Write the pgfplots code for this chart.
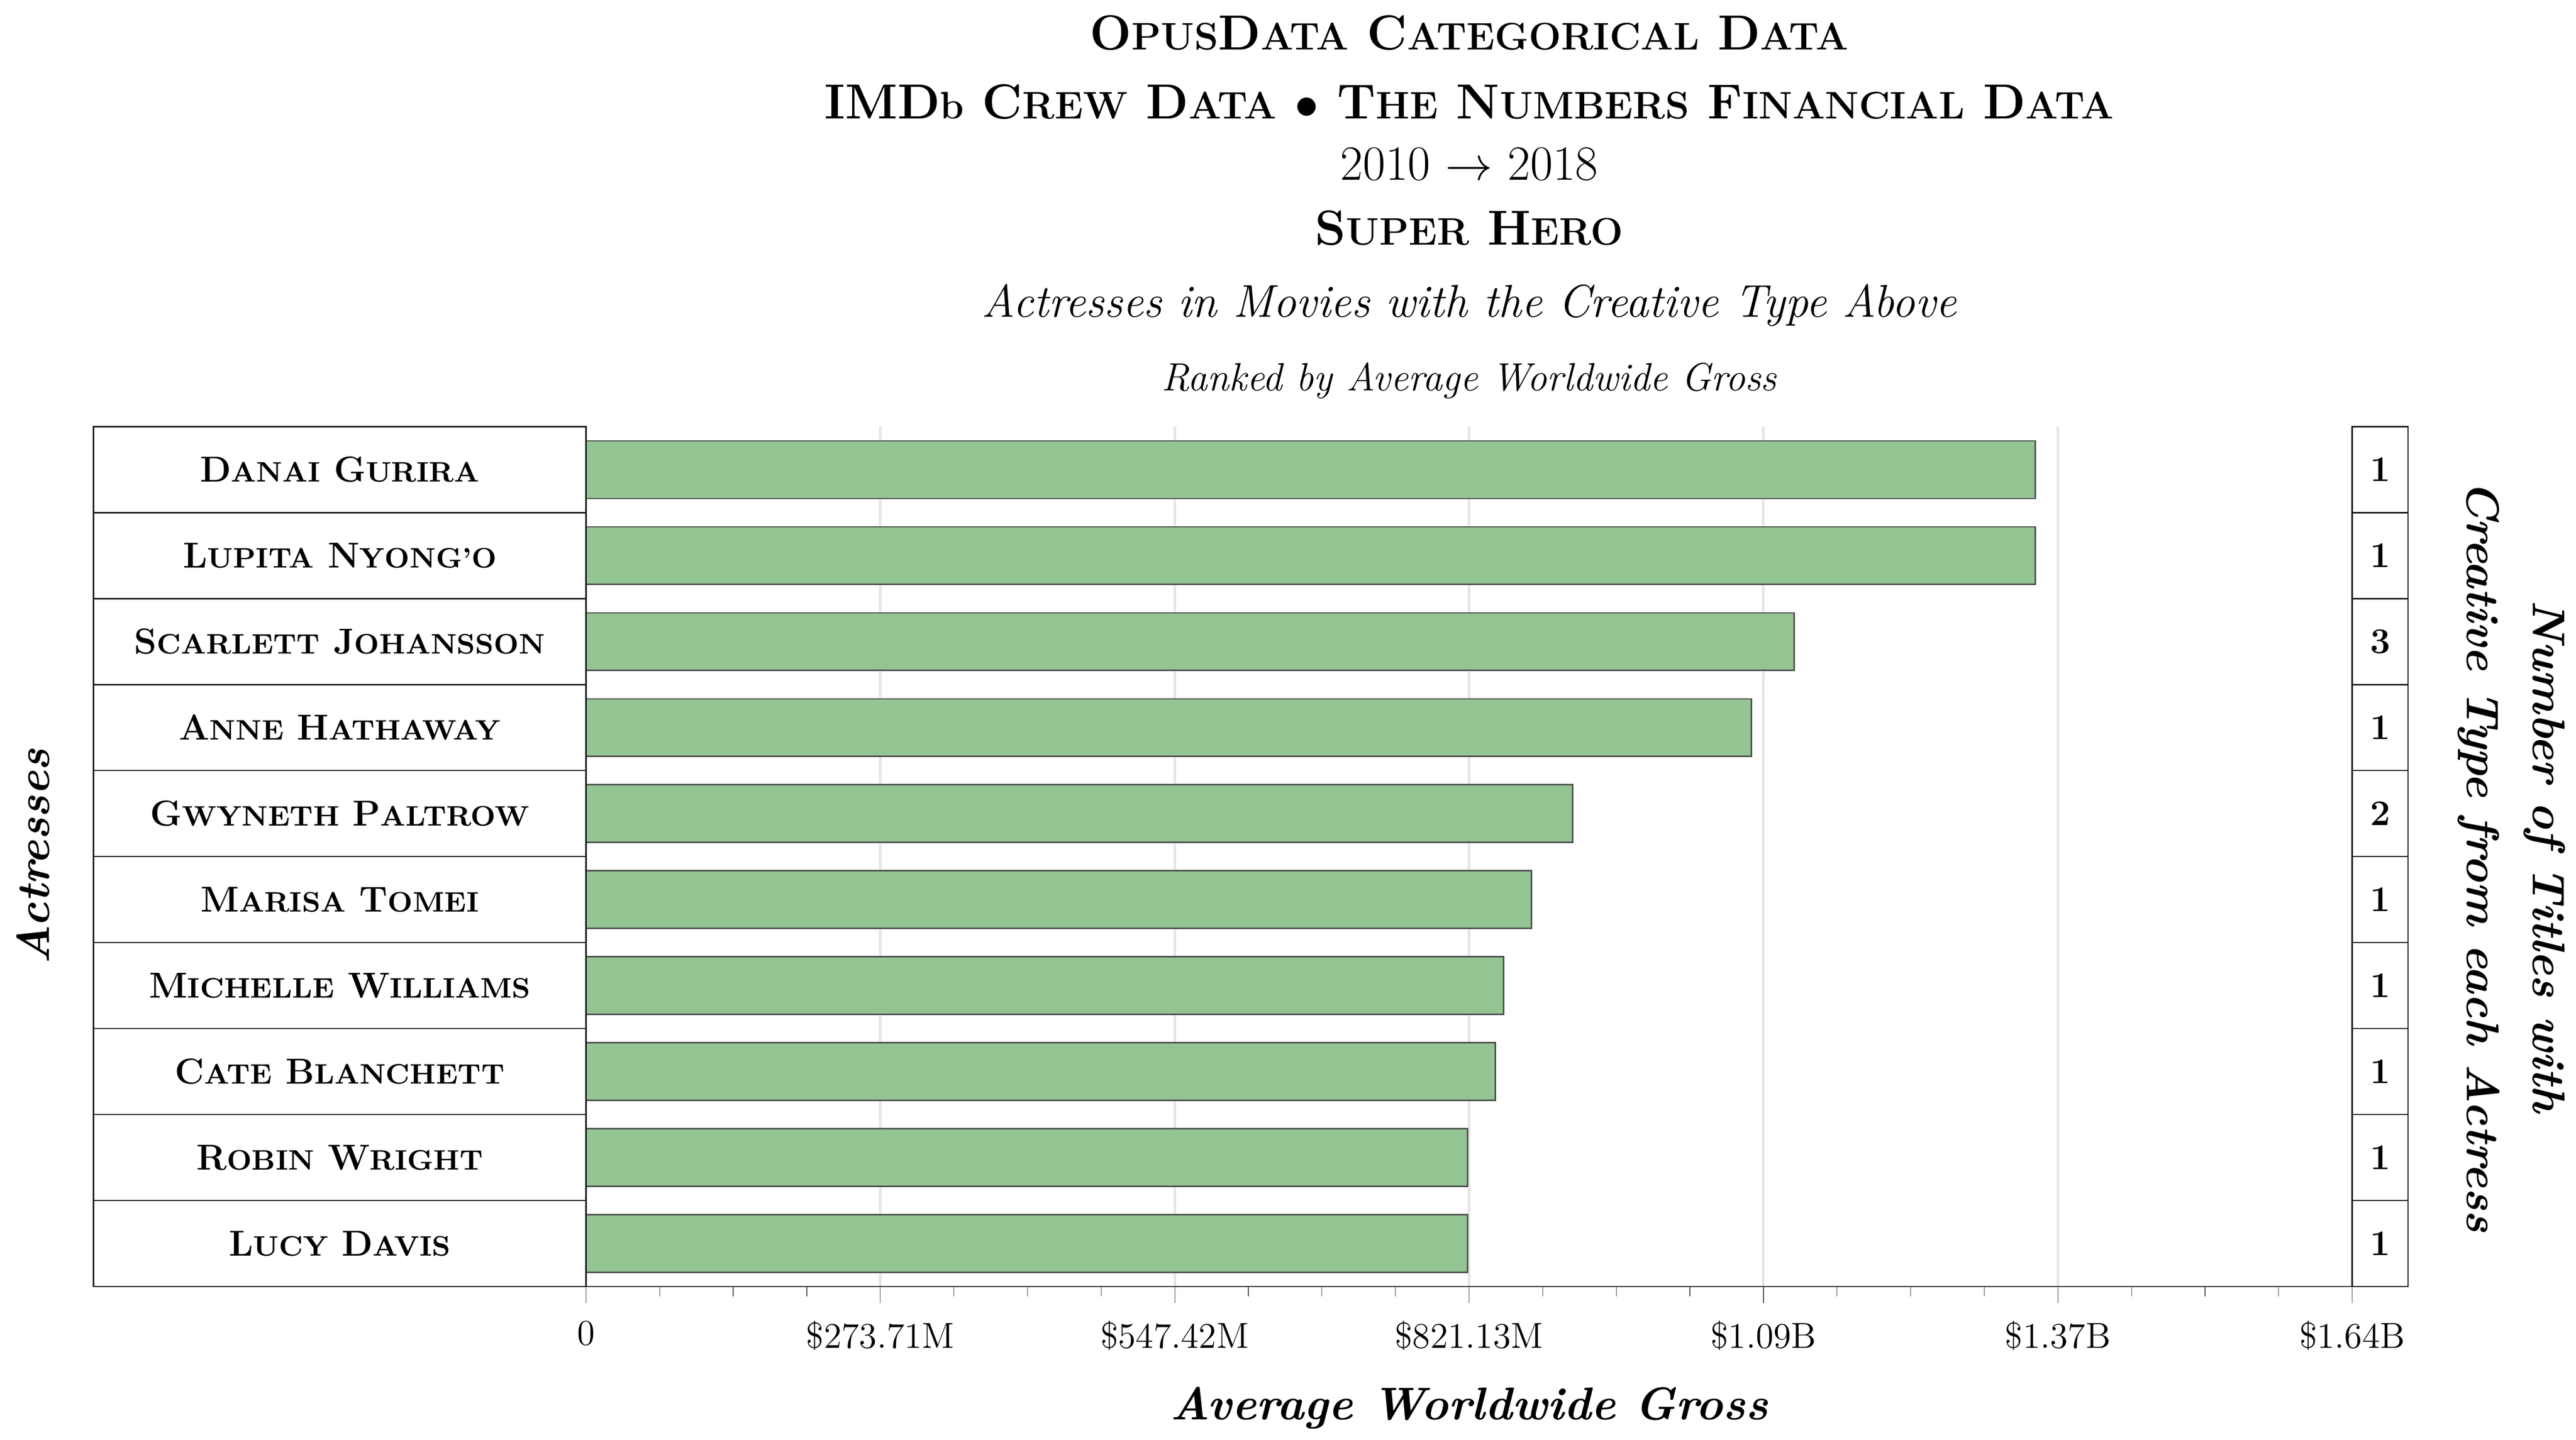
\documentclass[border=0pt]{standalone}
\usepackage{pgfplots}
\pgfplotsset{compat=1.18}
\newcommand\sm[1]{{\fontsize{8.6}{10}\selectfont #1}}
\newcommand\st[1]{{\fontsize{11.7}{13}\selectfont #1}}
\definecolor{barg}{HTML}{93C592}
\begin{document}
\begin{tikzpicture}
\path (-178.5pt,-46pt) rectangle (601.5pt,392pt);
\begin{axis}[
  at={(0,0)}, anchor=south west,
  width=538pt, height=262pt, scale only axis,
  xmin=0, xmax=1642.26, ymin=-0.5, ymax=9.5, y dir=reverse,
  axis x line=bottom, axis y line=none,
  xtick={0,273.71,547.42,821.13,1094.84,1368.55,1642.26},
  xticklabels={0,\$273.71M,\$547.42M,\$821.13M,\$1.09B,\$1.37B,\$1.64B},
  minor x tick num=3, tick align=outside,
  major tick length=5pt, minor tick length=3pt,
  tick style={black!70},
  xticklabel style={font=\fontsize{11}{13}\selectfont, yshift=-2pt},
  xmajorgrids, major grid style={black!10, line width=0.8pt},
  axis line style={black!80,-},
  ytick=\empty,
  clip=false,
]
\addplot[xbar, bar width=0.67, fill=barg, draw=black!70] coordinates {
(1347.7,0) (1347.7,1) (1123.3,2) (1083.6,3) (917.3,4) (879.1,5) (853.2,6) (845.6,7) (819.6,8) (819.6,9)};
\draw[black!90] ([xshift=-150pt]rel axis cs:0,0) rectangle (rel axis cs:0,1);
\draw[black!90] (rel axis cs:1,0) rectangle ([xshift=17pt]rel axis cs:1,1);
\pgfplotsinvokeforeach{0.5,1.5,2.5,3.5,4.5,5.5,6.5,7.5,8.5}{
  \draw[black!90] ([xshift=-150pt]axis cs:0,#1) -- (axis cs:0,#1);
  \draw[black!90] (axis cs:1642.26,#1) -- ([xshift=17pt]axis cs:1642.26,#1);
}
\node[font=\bfseries\fontsize{11}{13}\selectfont] at ([xshift=-75pt]axis cs:0,0) {D\sm{ANAI} G\sm{URIRA}};
\node[font=\bfseries\fontsize{11}{13}\selectfont] at ([xshift=-75pt]axis cs:0,1) {L\sm{UPITA} N\sm{YONG'O}};
\node[font=\bfseries\fontsize{11}{13}\selectfont] at ([xshift=-75pt]axis cs:0,2) {S\sm{CARLETT} J\sm{OHANSSON}};
\node[font=\bfseries\fontsize{11}{13}\selectfont] at ([xshift=-75pt]axis cs:0,3) {A\sm{NNE} H\sm{ATHAWAY}};
\node[font=\bfseries\fontsize{11}{13}\selectfont] at ([xshift=-75pt]axis cs:0,4) {G\sm{WYNETH} P\sm{ALTROW}};
\node[font=\bfseries\fontsize{11}{13}\selectfont] at ([xshift=-75pt]axis cs:0,5) {M\sm{ARISA} T\sm{OMEI}};
\node[font=\bfseries\fontsize{11}{13}\selectfont] at ([xshift=-75pt]axis cs:0,6) {M\sm{ICHELLE} W\sm{ILLIAMS}};
\node[font=\bfseries\fontsize{11}{13}\selectfont] at ([xshift=-75pt]axis cs:0,7) {C\sm{ATE} B\sm{LANCHETT}};
\node[font=\bfseries\fontsize{11}{13}\selectfont] at ([xshift=-75pt]axis cs:0,8) {R\sm{OBIN} W\sm{RIGHT}};
\node[font=\bfseries\fontsize{11}{13}\selectfont] at ([xshift=-75pt]axis cs:0,9) {L\sm{UCY} D\sm{AVIS}};
\node[font=\bfseries\fontsize{11}{13}\selectfont] at ([xshift=8.5pt]axis cs:1642.26,0) {1};
\node[font=\bfseries\fontsize{11}{13}\selectfont] at ([xshift=8.5pt]axis cs:1642.26,1) {1};
\node[font=\bfseries\fontsize{11}{13}\selectfont] at ([xshift=8.5pt]axis cs:1642.26,2) {3};
\node[font=\bfseries\fontsize{11}{13}\selectfont] at ([xshift=8.5pt]axis cs:1642.26,3) {1};
\node[font=\bfseries\fontsize{11}{13}\selectfont] at ([xshift=8.5pt]axis cs:1642.26,4) {2};
\node[font=\bfseries\fontsize{11}{13}\selectfont] at ([xshift=8.5pt]axis cs:1642.26,5) {1};
\node[font=\bfseries\fontsize{11}{13}\selectfont] at ([xshift=8.5pt]axis cs:1642.26,6) {1};
\node[font=\bfseries\fontsize{11}{13}\selectfont] at ([xshift=8.5pt]axis cs:1642.26,7) {1};
\node[font=\bfseries\fontsize{11}{13}\selectfont] at ([xshift=8.5pt]axis cs:1642.26,8) {1};
\node[font=\bfseries\fontsize{11}{13}\selectfont] at ([xshift=8.5pt]axis cs:1642.26,9) {1};
\node[font=\bfseries\itshape\fontsize{14}{16}\selectfont] at ([yshift=-37pt]rel axis cs:0.5,0) {Average Worldwide Gross};
\node[font=\bfseries\itshape\fontsize{14}{16}\selectfont, rotate=90] at ([xshift=-168.5pt]rel axis cs:0,0.5) {Actresses};
\node[font=\bfseries\itshape\fontsize{14}{20}\selectfont, rotate=-90, align=center] at ([xshift=48.5pt]rel axis cs:1,0.5) {Number of Titles with\\Creative Type from each Actress};
\node[font=\bfseries\fontsize{15}{17}\selectfont] at ([yshift=120pt]rel axis cs:0.5,1) {O\st{PUS}D\st{ATA} C\st{ATEGORICAL} D\st{ATA}};
\node[font=\bfseries\fontsize{15}{17}\selectfont] at ([yshift=99pt]rel axis cs:0.5,1) {IMD\st{b} C\st{REW} D\st{ATA} $\bullet$ T\st{HE} N\st{UMBERS} F\st{INANCIAL} D\st{ATA}};
\node[font=\fontsize{15}{17}\selectfont] at ([yshift=80pt]rel axis cs:0.5,1) {2010 $\rightarrow$ 2018};
\node[font=\bfseries\fontsize{15}{17}\selectfont] at ([yshift=60.5pt]rel axis cs:0.5,1) {S\st{UPER} H\st{ERO}};
\node[font=\itshape\fontsize{14}{16}\selectfont] at ([yshift=37pt]rel axis cs:0.5,1) {Actresses in Movies with the Creative Type Above};
\node[font=\itshape\fontsize{12}{14}\selectfont] at ([yshift=14pt]rel axis cs:0.5,1) {Ranked by Average Worldwide Gross};
\end{axis}
\end{tikzpicture}
\end{document}
